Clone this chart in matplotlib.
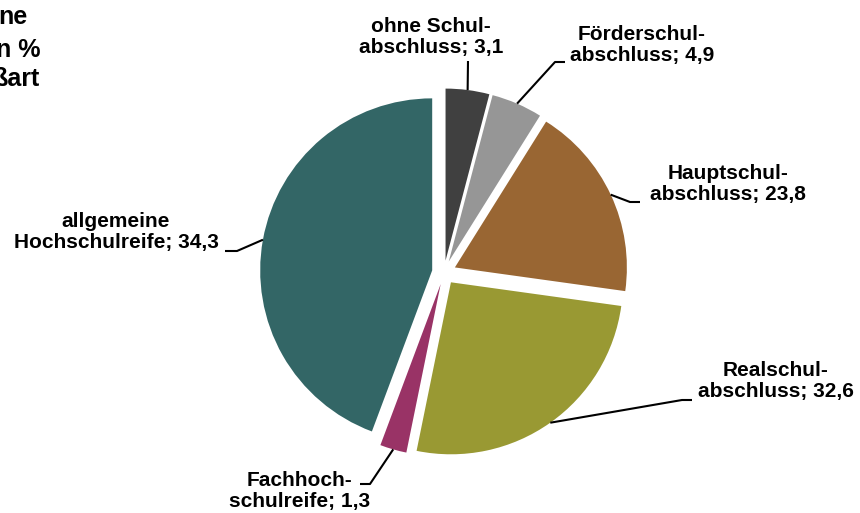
import numpy as np
import matplotlib
matplotlib.use("Agg")
import matplotlib.pyplot as plt

# ---- data ----
categories = ["ohne Schul-\nabschluss", "Förderschul-\nabschluss", "Hauptschul-\nabschluss",
              "Realschul-\nabschluss", "Fachhoch-\nschulreife", "allgemeine\nHochschulreife"]
label_values = ["3,1", "4,9", "23,8", "32,6", "1,3", "34,3"]          # printed in labels
slice_shares = [4.1, 4.8, 18.3, 26.0, 2.5, 44.3]                        # drawn slice sizes
title_fragments = ["ne", "n %", "ßart"]

# ---- styles / layout ----
colors = ["#404040", "#969696", "#996633", "#999933", "#993366", "#336666"]
W, H = 860, 513
cx, cy, R = 444, 272.5, 172
explode_px = 12
# text centers and elbow/stub points in pixel coords (y down)
text_pos = [(431, 37), (642, 45), (728, 184), (776, 381), (300, 491), (116, 232)]
elbows = [[(468, 61)], [(555, 62), (565, 62)], [(630, 202), (640, 202)],
          [(682, 400), (692, 400)], [(370, 484), (360, 484)], [(237, 251), (225, 251)]]
title_pos = [(27, 24), (40, 57), (40, 86)]

plt.rcParams['font.family'] = ['Liberation Sans', 'DejaVu Sans']
fig = plt.figure(figsize=(W / 100, H / 100), dpi=100)
ax = fig.add_axes([0, 0, 1, 1])

wedges, _ = ax.pie(slice_shares, colors=colors, startangle=90, counterclock=False,
                   explode=[explode_px] * len(slice_shares), center=(cx, H - cy), radius=R,
                   wedgeprops=dict(linewidth=0))
ax.set_xlim(0, W)
ax.set_ylim(0, H)
ax.set_aspect('equal')
ax.axis('off')

for w, cat, val, tp, elb in zip(wedges, categories, label_values, text_pos, elbows):
    mid = np.deg2rad((w.theta1 + w.theta2) / 2)
    x0 = w.center[0] + w.r * np.cos(mid)
    y0 = w.center[1] + w.r * np.sin(mid)
    xs = [x0] + [p[0] for p in elb]
    ys = [y0] + [H - p[1] for p in elb]
    ax.plot(xs, ys, color='black', lw=1.5, solid_capstyle='butt')
    ax.text(tp[0], H - tp[1], f"{cat}; {val}", ha='center', va='center',
            multialignment='center', fontsize=15, fontweight='bold', linespacing=1.1)

for frag, (tx, ty) in zip(title_fragments, title_pos):
    ax.text(tx, H - ty, frag, ha='right', va='baseline', fontsize=18, fontweight='bold')

fig.savefig("out.png", dpi=100)
